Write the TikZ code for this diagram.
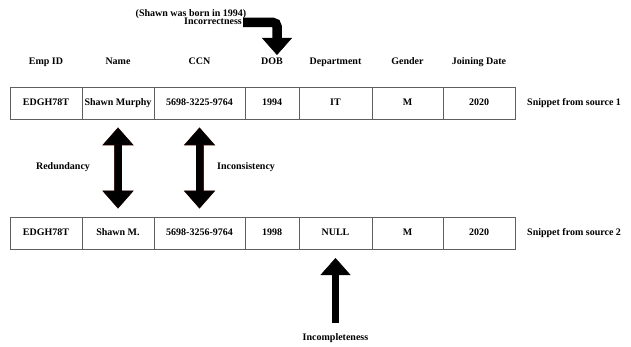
\documentclass[tikz,border=0pt]{standalone}
\usepackage{fontspec}
\setmainfont{Liberation Serif}
\usetikzlibrary{positioning, arrows.meta}
\definecolor{gridline}{RGB}{95,95,95}
\definecolor{rim}{RGB}{75,25,15}
\tikzset{
  cell/.style={draw=gridline, line width=.8pt, minimum height=32pt, inner sep=0pt, outer sep=0pt, font=\bfseries, text height=7pt, text depth=2pt},
  hdr/.style={font=\bfseries, inner sep=1pt, text height=7pt, text depth=2pt},
  lbl/.style={font=\bfseries, inner sep=1pt, text height=7pt, text depth=2pt},
  twoway/.style={line width=7pt, {Triangle[width=30pt,length=17pt,line width=.5pt]}-{Triangle[width=30pt,length=17pt,line width=.5pt]}, shorten <=9pt, shorten >=9pt},
  oneway/.style={line width=7pt, -{Triangle[width=30pt,length=17pt,line width=.5pt]}}
}
\begin{document}
\begin{tikzpicture}[x=1pt,y=-1pt]
\useasboundingbox (0,0) rectangle (631,347);
% headers
\node[hdr] (hA) at (46,62) {Emp ID};
\node[hdr] (hB) at (118,62) {Name};
\node[hdr] (hC) at (199.5,62) {CCN};
\node[hdr] (hD) at (272,62) {DOB};
\node[hdr] (hE) at (335.5,62) {Department};
\node[hdr] (hF) at (407.5,62) {Gender};
\node[hdr] (hG) at (479,62) {Joining Date};
% source 1
\node[cell,minimum width=72pt] (a1) at (46,103) {EDGH78T};
\node[cell,minimum width=72pt,right=0pt of a1] (b1) {Shawn Murphy};
\node[cell,minimum width=91pt,right=0pt of b1] (c1) {5698-3225-9764};
\node[cell,minimum width=54pt,right=0pt of c1] (d1) {1994};
\node[cell,minimum width=73pt,right=0pt of d1] (e1) {IT};
\node[cell,minimum width=71pt,right=0pt of e1] (f1) {M};
\node[cell,minimum width=72pt,right=0pt of f1] (g1) {2020};
\node[lbl,right=11pt of g1] (src1) {Snippet from source 1};
% source 2
\node[cell,minimum width=72pt] (a2) at (46,233) {EDGH78T};
\node[cell,minimum width=72pt,right=0pt of a2] (b2) {Shawn M.};
\node[cell,minimum width=91pt,right=0pt of b2] (c2) {5698-3256-9764};
\node[cell,minimum width=54pt,right=0pt of c2] (d2) {1998};
\node[cell,minimum width=73pt,right=0pt of d2] (e2) {NULL};
\node[cell,minimum width=71pt,right=0pt of e2] (f2) {M};
\node[cell,minimum width=72pt,right=0pt of f2] (g2) {2020};
\node[lbl,right=11pt of g2] (src2) {Snippet from source 2};
% problems
\node[lbl] (born) at (191,14) {(Shawn was born in 1994)};
\node[lbl,anchor=east] (wrong) at (243,22.5) {Incorrectness};
\coordinate (wrongtip) at (277,55);
\draw[line width=9.5pt, rounded corners=4pt, -{Triangle[width=30pt,length=17pt,line width=.5pt]}] (wrong.east) -| (wrongtip);
\node[lbl] (redund) at (63,167) {Redundancy};
\node[lbl,anchor=west] (incons) at (216,167) {Inconsistency};
\draw[rim, line width=8pt, {Triangle[width=31.5pt,length=18pt,line width=.5pt]}-{Triangle[width=31.5pt,length=18pt,line width=.5pt]}, shorten <=8.4pt, shorten >=8.4pt] (b1.south) -- (b2.north);
\draw[twoway] (b1.south) -- (b2.north);
\draw[rim, line width=8pt, {Triangle[width=31.5pt,length=18pt,line width=.5pt]}-{Triangle[width=31.5pt,length=18pt,line width=.5pt]}, shorten <=8.4pt, shorten >=8.4pt] (c1.south) -- (c2.north);
\draw[twoway] (c1.south) -- (c2.north);
\node[lbl] (incmp) at (335.5,338) {Incompleteness};
\draw[oneway, shorten <=9pt, shorten >=9pt] (incmp.north) -- (e2.south);
\end{tikzpicture}
\end{document}
